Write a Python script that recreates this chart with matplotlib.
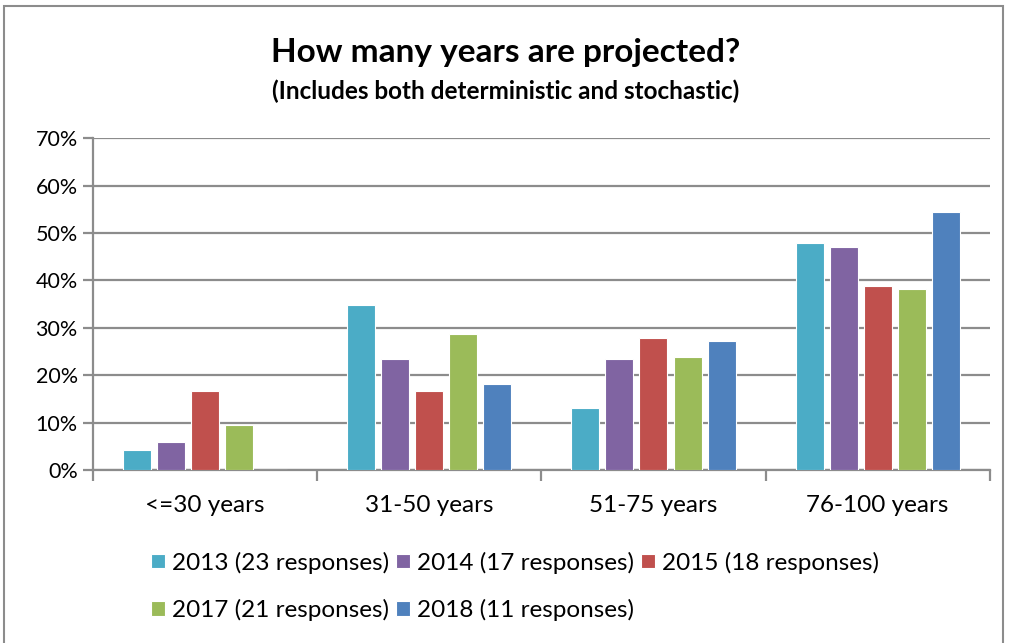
import numpy as np
import matplotlib.pyplot as plt
from matplotlib.patches import Rectangle

plt.rcParams['font.family'] = ['Lato', 'DejaVu Sans']

categories = ['<=30 years', '31-50 years', '51-75 years', '76-100 years']
series_names = ['2013 (23 responses)', '2014 (17 responses)', '2015 (18 responses)',
                '2017 (21 responses)', '2018 (11 responses)']
pct_2013 = [4.3, 34.8, 13.0, 47.8]
pct_2014 = [5.9, 23.5, 23.5, 47.1]
pct_2015 = [16.7, 16.7, 27.8, 38.9]
pct_2017 = [9.5, 28.6, 23.8, 38.1]
pct_2018 = [0.0, 18.2, 27.3, 54.5]
colors = ['#4BACC6', '#8064A2', '#C0504D', '#9BBB59', '#4F81BD']

series = [pct_2013, pct_2014, pct_2015, pct_2017, pct_2018]

fig = plt.figure(figsize=(10.11, 6.43), dpi=100)
ax = fig.add_axes([0.092, 0.269, 0.887, 0.516])

x = np.arange(len(categories))
step = 0.152
width = 0.125
handles = []
for i, (vals, name, c) in enumerate(zip(series, series_names, colors)):
    b = ax.bar(x + (i - 2) * step, vals, width, color=c, edgecolor='white',
               linewidth=0.8, label=name, zorder=3)
    handles.append(b)

ax.set_xlim(-0.5, len(categories) - 0.5)
ax.set_ylim(0, 70)
ax.set_yticks(range(0, 71, 10))
ax.set_yticklabels([f'{v}%' for v in range(0, 71, 10)], fontsize=15.5)
ax.yaxis.grid(True, color='#8C8C8C', linewidth=1.6, zorder=0)
ax.set_axisbelow(True)

# category labels centred, tick marks at group boundaries
ax.set_xticks(x)
ax.set_xticklabels(categories, fontsize=17.5)
ax.tick_params(axis='x', length=0, pad=18)
ax.set_xticks(np.arange(-0.5, len(categories)), minor=True)
ax.tick_params(axis='x', which='minor', length=8, width=1.6, color='#8C8C8C')
ax.tick_params(axis='y', length=7, width=1.6, color='#8C8C8C', pad=4)

for side in ['top', 'right']:
    ax.spines[side].set_visible(False)
for side in ['left', 'bottom']:
    ax.spines[side].set_color('#8C8C8C')
    ax.spines[side].set_linewidth(1.6)

fig.text(0.5, 0.918, 'How many years are projected?', ha='center', va='center',
         fontsize=24, fontweight='bold')
fig.text(0.5, 0.858, '(Includes both deterministic and stochastic)', ha='center',
         va='center', fontsize=17.5, fontweight='bold')

order = [0, 3, 1, 4, 2]
fig.legend([handles[i] for i in order], [series_names[i] for i in order],
           ncol=3, loc='lower left', bbox_to_anchor=(0.128, 0.0), frameon=False,
           fontsize=17.5, handlelength=0.55, handleheight=0.55, handletextpad=0.3,
           columnspacing=0.3, labelspacing=1.05)

# outer chart border
fig.patches.append(Rectangle((0.004, -0.01), 0.988, 1.0, transform=fig.transFigure,
                             fill=False, edgecolor='#8C8C8C', linewidth=1.5))

fig.savefig('out.png', dpi=100)
